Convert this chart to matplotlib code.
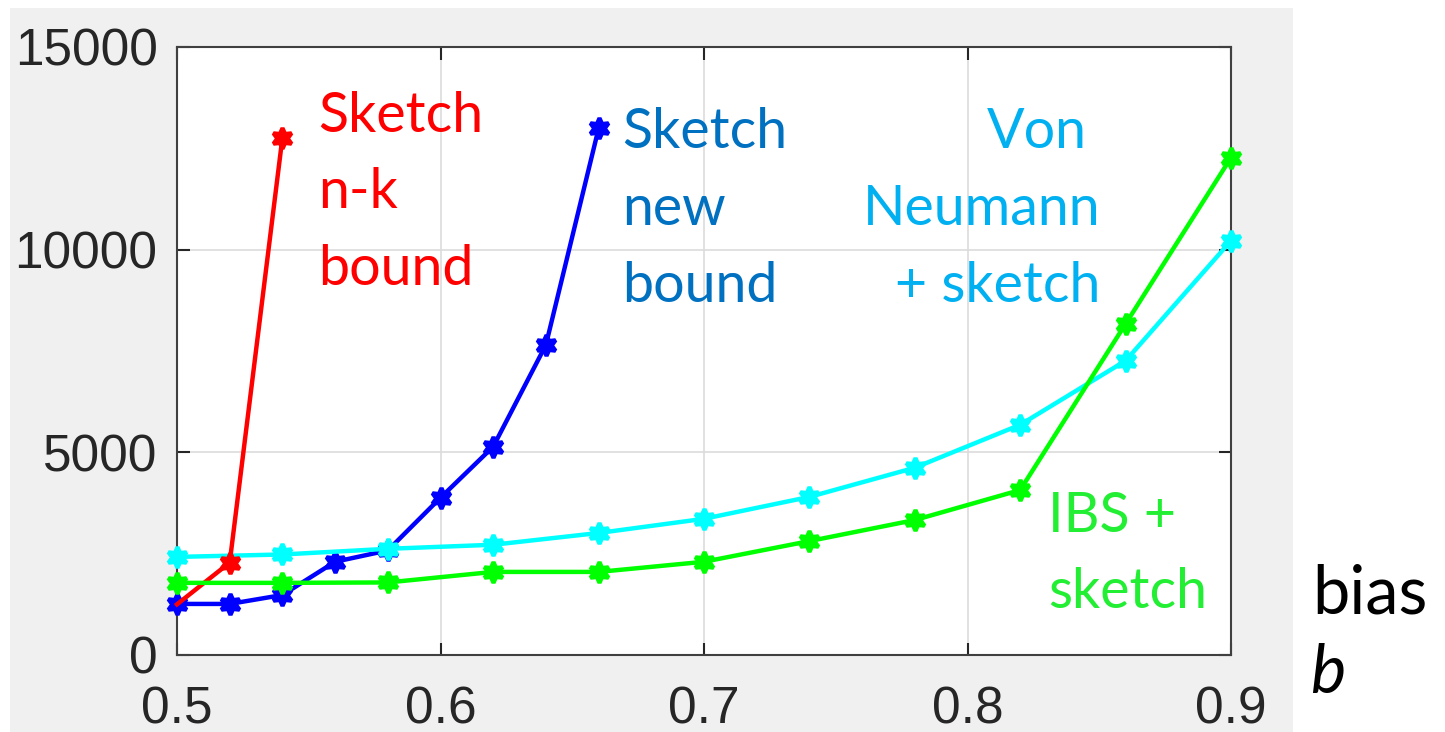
import matplotlib
matplotlib.use("Agg")
import matplotlib.pyplot as plt
from matplotlib.patches import Rectangle

# bias values and run lengths per method
b_red = [0.50, 0.52, 0.54]
n_red = [1250, 2280, 12760]

b_blue = [0.50, 0.52, 0.54, 0.56, 0.58, 0.60, 0.62, 0.64, 0.66]
n_blue = [1260, 1260, 1480, 2300, 2580, 3880, 5140, 7650, 12990]

b_cyan = [0.50, 0.54, 0.58, 0.62, 0.66, 0.70, 0.74, 0.78, 0.82, 0.86, 0.90]
n_cyan = [2420, 2480, 2620, 2720, 3010, 3360, 3900, 4620, 5680, 7260, 10220]

b_green = [0.50, 0.54, 0.58, 0.62, 0.66, 0.70, 0.74, 0.78, 0.82, 0.86, 0.90]
n_green = [1780, 1780, 1790, 2050, 2050, 2300, 2810, 3330, 4070, 8170, 12270]

xticks = [0.5, 0.6, 0.7, 0.8, 0.9]
yticks = [0, 5000, 10000, 15000]

W, H = 1445, 732
fig = plt.figure(figsize=(W / 100, H / 100), dpi=100, facecolor="white")

# matlab-style grey figure panel
fig.patches.append(Rectangle((10 / W, 0), (1293 - 10) / W, (H - 8) / H,
                             transform=fig.transFigure, facecolor="#f0f0f0",
                             edgecolor="none", zorder=-5))

ax = fig.add_axes([177 / W, (H - 655) / H, (1231 - 177) / W, (655 - 47) / H])
ax.set_zorder(1)
ax.set_facecolor("white")

hexa = (6, 1, 0)
style = dict(lw=3.2, marker=hexa, ms=15, mew=3, clip_on=False)
ax.plot(b_blue, n_blue, color="#0000ff", mec="#0000ff", zorder=3, **style)
ax.plot(b_cyan, n_cyan, color="#00ffff", mec="#00ffff", zorder=4, **style)
ax.plot(b_red, n_red, color="#ff0000", mec="#ff0000", zorder=5,
        markevery=[1, 2], **style)
ax.plot(b_green, n_green, color="#00ff00", mec="#00ff00", zorder=6, **style)

ax.set_xlim(0.5, 0.9)
ax.set_ylim(0, 15000)
ax.set_xticks(xticks)
ax.set_xticklabels([f"{t:g}" for t in xticks])
ax.set_yticks(yticks)
ax.set_yticklabels([str(t) for t in yticks])
ax.grid(True, color="#dcdcdc", lw=1.2)
ax.set_axisbelow(True)
ax.tick_params(direction="in", length=9, width=1.5, color="#262626",
               labelcolor="#262626", labelsize=37, top=True, right=True,
               labeltop=False, labelright=False)
ax.tick_params(axis="x", pad=22)
ax.tick_params(axis="y", pad=14)
for lab in ax.get_xticklabels() + ax.get_yticklabels():
    lab.set_family("Liberation Sans")
for s in ax.spines.values():
    s.set_color("#404040")
    s.set_linewidth(1.5)


def px(x, y):
    return (x / W, 1 - y / H)


def label(x, y, s, color, ha="left", size=40, style="normal"):
    fig.text(*px(x, y), s, color=color, ha=ha, va="baseline",
             family="Lato", fontsize=size, style=style, zorder=10)


label(318, 132, "Sketch", "#ff0000")
label(318, 208, "n-k", "#ff0000")
label(318, 285, "bound", "#ff0000")

label(622, 148, "Sketch", "#0070c0")
label(622, 225, "new", "#0070c0")
label(622, 302, "bound", "#0070c0")

label(1087, 148, "Von", "#00b0f0", ha="right")
label(1100, 225, "Neumann", "#00b0f0", ha="right")
label(1100, 302, "+ sketch", "#00b0f0", ha="right")

label(1048, 532, "IBS +", "#22ee33")
label(1048, 608, "sketch", "#22ee33")

label(1312, 614, "bias", "black", size=48)
label(1310, 693, "b", "black", size=48, style="italic")

fig.savefig("out.png", dpi=100, facecolor="white")
